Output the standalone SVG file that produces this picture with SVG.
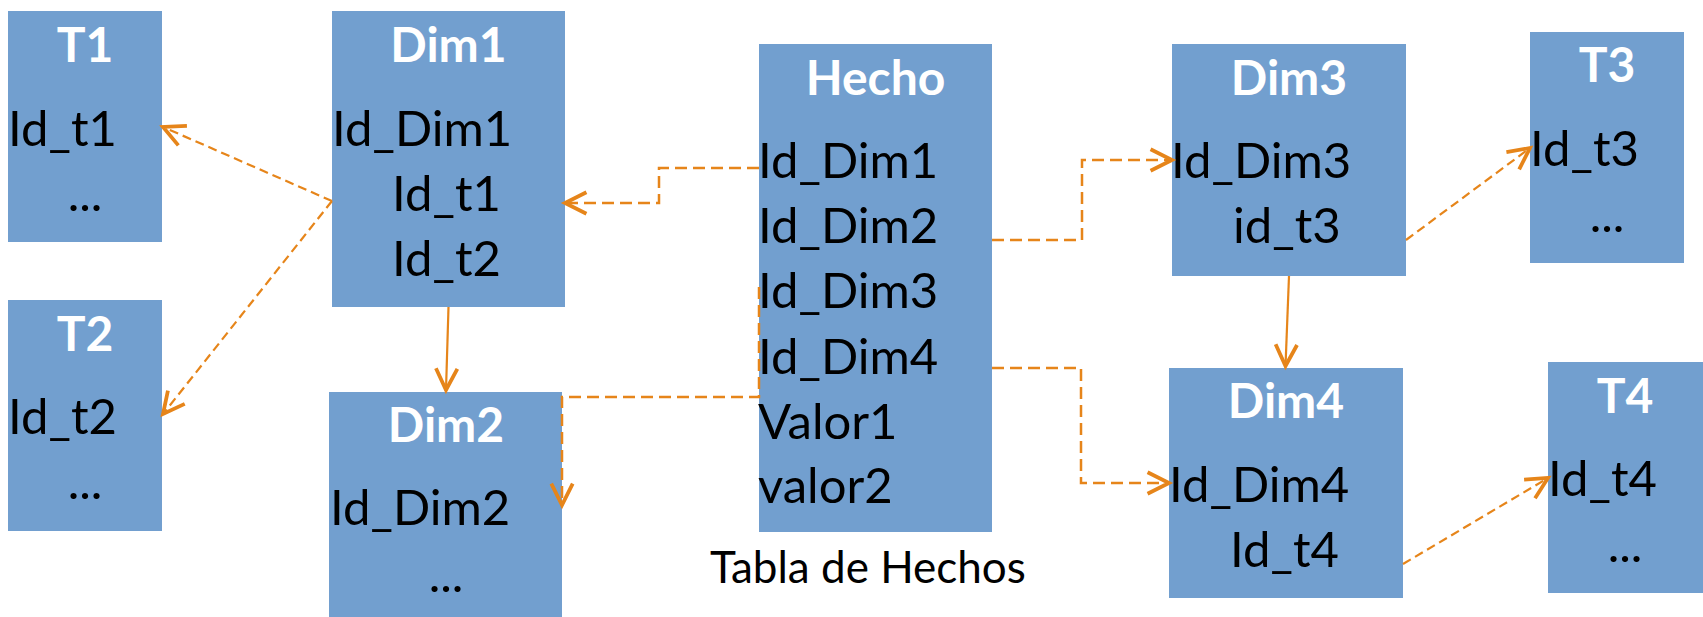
<svg xmlns="http://www.w3.org/2000/svg" width="1703" height="617" viewBox="0 0 1703 617">
  <style>
    .box { fill: #729fcf; }
    .title { font-family: Lato, "Liberation Sans", Arial, sans-serif; font-size: 48px; font-weight: bold; fill: #ffffff; text-anchor: middle; }
    .field { font-family: Lato, "Liberation Sans", Arial, sans-serif; font-size: 49px; fill: #000000; }
    .mid { text-anchor: middle; }
    .caption { font-family: Lato, "Liberation Sans", Arial, sans-serif; font-size: 44px; fill: #000000; }
    .link { fill: none; stroke: #e6851a; }
    .dash { stroke-width: 2.5; stroke-dasharray: 12 6; }
    .fine { stroke-width: 2.2; stroke-dasharray: 9 5; }
    .solid { stroke-width: 2.2; }
  </style>
  <defs>
    <marker id="open" markerUnits="userSpaceOnUse" markerWidth="30" markerHeight="30" viewBox="-24 -14 28 28" refX="0" refY="0" orient="auto" overflow="visible">
      <path d="M-20,-10 L0,0 L-20,10" fill="none" stroke="#e6851a" stroke-width="3.5" stroke-dasharray="none"/>
    </marker>
  </defs>

  <!-- tables -->
  <g id="t1">
    <rect class="box" x="8" y="11" width="154" height="231"/>
    <text class="title" x="85" y="62">T1</text>
    <text class="field" x="8" y="146">Id_t1</text>
    <text class="field mid" x="85" y="211">...</text>
  </g>
  <g id="t2">
    <rect class="box" x="8" y="300" width="154" height="231"/>
    <text class="title" x="85" y="351">T2</text>
    <text class="field" x="8" y="434">Id_t2</text>
    <text class="field mid" x="85" y="499">...</text>
  </g>
  <g id="dim1">
    <rect class="box" x="332" y="11" width="233" height="296"/>
    <text class="title" x="448.5" y="62">Dim1</text>
    <text class="field" x="332" y="146">Id_Dim1</text>
    <text class="field" x="392" y="211">Id_t1</text>
    <text class="field" x="392" y="276">Id_t2</text>
  </g>
  <g id="dim2">
    <rect class="box" x="329" y="392" width="233" height="226"/>
    <text class="title" x="446" y="442">Dim2</text>
    <text class="field" x="330" y="525">Id_Dim2</text>
    <text class="field mid" x="446" y="592">...</text>
  </g>
  <g id="hecho">
    <rect class="box" x="759" y="44" width="233" height="488"/>
    <text class="title" x="875.5" y="95">Hecho</text>
    <text class="field" x="758" y="178">Id_Dim1</text>
    <text class="field" x="758" y="243">Id_Dim2</text>
    <text class="field" x="758" y="308">Id_Dim3</text>
    <text class="field" x="758" y="374">Id_Dim4</text>
    <text class="field" x="758" y="439">Valor1</text>
    <text class="field" x="758" y="503">valor2</text>
    <text class="caption" x="710" y="583">Tabla de Hechos</text>
  </g>
  <g id="dim3">
    <rect class="box" x="1172" y="44" width="234" height="232"/>
    <text class="title" x="1289" y="95">Dim3</text>
    <text class="field" x="1171" y="178">Id_Dim3</text>
    <text class="field" x="1233" y="243">id_t3</text>
  </g>
  <g id="dim4">
    <rect class="box" x="1169" y="368" width="234" height="230"/>
    <text class="title" x="1286" y="418">Dim4</text>
    <text class="field" x="1169" y="502">Id_Dim4</text>
    <text class="field" x="1230" y="567">Id_t4</text>
  </g>
  <g id="t3">
    <rect class="box" x="1530" y="32" width="154" height="231"/>
    <text class="title" x="1607" y="82">T3</text>
    <text class="field" x="1530" y="166">Id_t3</text>
    <text class="field mid" x="1607" y="232">...</text>
  </g>
  <g id="t4">
    <rect class="box" x="1548" y="362" width="155" height="231"/>
    <text class="title" x="1625" y="413">T4</text>
    <text class="field" x="1548" y="496">Id_t4</text>
    <text class="field mid" x="1625" y="562">...</text>
  </g>

  <!-- connectors -->
  <g id="connectors">
    <path class="link fine" d="M332,201 L163,127" marker-end="url(#open)"/>
    <path class="link fine" d="M332,201 L163,414" marker-end="url(#open)"/>
    <path class="link solid" d="M448.5,307 L446,390" marker-end="url(#open)"/>
    <path class="link dash" d="M759,168 L659,168 L659,203 L565,203" marker-end="url(#open)"/>
    <path class="link dash" d="M759,287 L759,397 L562,397 L562,505" marker-end="url(#open)"/>
    <path class="link dash" d="M992,240 L1082,240 L1082,160 L1172,160" marker-end="url(#open)"/>
    <path class="link dash" d="M992,368 L1081,368 L1081,483 L1169,483" marker-end="url(#open)"/>
    <path class="link fine" d="M1406,240 L1530,148" marker-end="url(#open)"/>
    <path class="link solid" d="M1289,276 L1285.5,366" marker-end="url(#open)"/>
    <path class="link fine" d="M1403,564 L1548,478" marker-end="url(#open)"/>
  </g>
</svg>
